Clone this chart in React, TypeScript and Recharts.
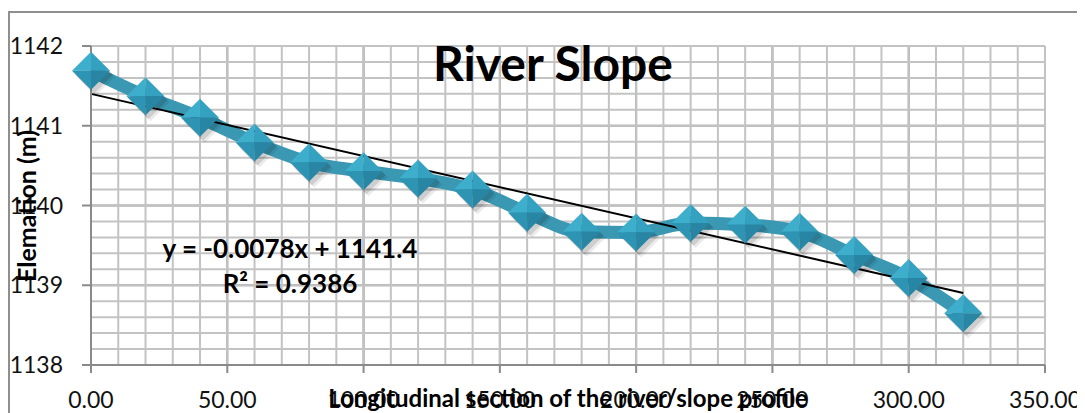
import React from 'react'
import { ComposedChart, Line, XAxis, YAxis, CartesianGrid, ReferenceLine } from 'recharts'

// survey stations along the river (m) and measured bed elevation (m)
const distance = [0, 20, 40, 60, 80, 100, 120, 140, 160, 180, 200, 220, 240, 260, 280, 300, 320]
const elevation = [
  1141.69, 1141.37, 1141.1, 1140.79, 1140.54, 1140.43, 1140.34, 1140.2, 1139.91,
  1139.67, 1139.66, 1139.78, 1139.76, 1139.67, 1139.38, 1139.09, 1138.65,
]

// linear trend: y = -0.0078x + 1141.4
const trendSlope = -0.0078
const trendIntercept = 1141.4
const trendRange = [0, 320]

const xTicks = [0, 50, 100, 150, 200, 250, 300, 350]
const yTicks = [1138, 1139, 1140, 1141, 1142]
const xMinor = Array.from({ length: 36 }, (_, i) => i * 10)
const yMinor = Array.from({ length: 21 }, (_, i) => 1138 + i * 0.2)

const profile = distance.map((x, i) => ({ x, y: elevation[i] }))
const trend = trendRange.map((x) => ({ x, y: trendSlope * x + trendIntercept }))

const FONT = 'Lato, "Open Sans", sans-serif'
const tickStyle = { fontSize: 23, fill: '#111', fontFamily: FONT }

// pyramid-style diamond marker
function Diamond(props: any) {
  const { cx, cy } = props
  if (cx == null || cy == null) return <g />
  const r = 19
  const L = `${cx - r},${cy}`
  const T = `${cx},${cy - r}`
  const R = `${cx + r},${cy}`
  const B = `${cx},${cy + r}`
  const C = `${cx},${cy}`
  return (
    <g>
      <polygon points={`${L} ${T} ${R} ${B}`} fill="#000" opacity={0.12} transform="translate(3,4)" />
      <polygon points={`${L} ${T} ${R} ${B}`} fill="#000" opacity={0.08} transform="translate(5,6)" />
      <polygon points={`${L} ${T} ${C}`} fill="#3eaecd" />
      <polygon points={`${T} ${R} ${C}`} fill="#34a1c1" />
      <polygon points={`${R} ${B} ${C}`} fill="#2886a4" />
      <polygon points={`${B} ${L} ${C}`} fill="#2e94b4" />
    </g>
  )
}

export default function App() {
  return (
    <div style={{ position: 'relative', width: 1077, height: 405, overflow: 'hidden', fontFamily: FONT }}>
      <div
        style={{
          position: 'absolute', left: 0, top: 3, width: 1200, height: 500,
          borderTop: '2px solid #8f8f8f', borderLeft: '2px solid #8f8f8f',
        }}
      />
      <div style={{ position: 'absolute', left: 0, top: 0 }}>
        <ComposedChart width={1077} height={405} margin={{ top: 38, right: 40, left: 0, bottom: 0 }}>
          {/* minor grid: every 10 m across, every 0.2 m up */}
          {xMinor.map((v) => (
            <ReferenceLine key={`mx${v}`} x={v} stroke="#c3c3c3" strokeWidth={2} zIndex={-90} />
          ))}
          {yMinor.map((v) => (
            <ReferenceLine key={`my${v}`} y={v} stroke="#c3c3c3" strokeWidth={2} zIndex={-90} />
          ))}
          <XAxis
            dataKey="x"
            type="number"
            domain={[0, 350]}
            ticks={xTicks}
            height={48}
            tickFormatter={(v) => Number(v).toFixed(2)}
            tick={tickStyle}
            tickSize={8}
            tickMargin={19}
            axisLine={{ stroke: '#8a8a8a', strokeWidth: 2 }}
            tickLine={{ stroke: '#8a8a8a', strokeWidth: 2 }}
            interval={0}
          />
          <YAxis
            type="number"
            domain={[1138, 1142]}
            ticks={yTicks}
            width={83}
            tick={tickStyle}
            tickSize={9}
            tickMargin={19}
            axisLine={{ stroke: '#8a8a8a', strokeWidth: 2 }}
            tickLine={{ stroke: '#8a8a8a', strokeWidth: 2 }}
            interval={0}
          />
          <CartesianGrid stroke="#8c8c8c" strokeWidth={2} />
          <Line
            data={profile}
            dataKey="y"
            type="monotone"
            stroke="#3a98b3"
            strokeWidth={13}
            dot={<Diamond />}
            activeDot={false}
            isAnimationActive={false}
          />
          <Line
            data={trend}
            dataKey="y"
            type="linear"
            stroke="#000"
            strokeWidth={2}
            dot={false}
            activeDot={false}
            isAnimationActive={false}
          />
        </ComposedChart>
      </div>
      <svg
        width={1077}
        height={405}
        style={{ position: 'absolute', left: 0, top: 0, pointerEvents: 'none' }}
        fontFamily={FONT}
      >
        <text x={545} y={73} textAnchor="middle" fontSize={48} fontWeight={700} fill="#000">
          River Slope
        </text>
        <text x={282} y={250} textAnchor="middle" fontSize={26} fontWeight={700} fill="#000">
          y = -0.0078x + 1141.4
        </text>
        <text x={282} y={285} textAnchor="middle" fontSize={26} fontWeight={700} fill="#000">
          R² = 0.9386
        </text>
        <text
          x={28}
          y={198}
          textAnchor="middle"
          fontSize={25}
          fontWeight={700}
          fill="#000"
          transform="rotate(-90, 28, 198)"
        >
          Elemation (m)
        </text>
        <text x={560} y={399} textAnchor="middle" fontSize={24} fontWeight={700} fill="#000">
          Longitudinal section of the river/slope profile
        </text>
      </svg>
    </div>
  )
}
